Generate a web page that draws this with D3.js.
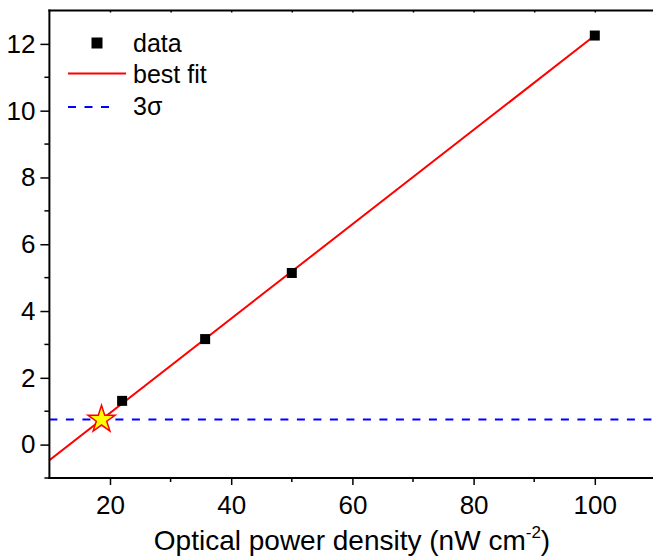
<!DOCTYPE html>
<html>
<head>
<meta charset="utf-8">
<script src="https://cdn.jsdelivr.net/npm/d3@7"></script>
<style>
  html, body { margin: 0; padding: 0; background: #fff; }
  svg { display: block; font-family: Arial, "Liberation Sans", sans-serif; }
</style>
</head>
<body>
<svg id="chart" width="653" height="558"></svg>
<script>
// Measured points: optical power density (nW cm^-2) vs response
const powerDensity = [22, 35.7, 50, 100];
const response = [1.31, 3.16, 5.14, 12.25];

// Linear fit, drawn between its two end points
const fitX = [10, 100];
const fitY = [-0.465, 12.25];

// 3-sigma noise level and the detection limit where the fit crosses it
const threeSigma = 0.75;
const detectionLimit = { x: 18.6, y: 0.75 };

// Axis ticks
const xMajorTicks = [20, 40, 60, 80, 100];
const xMinorTicks = [30, 50, 70, 90];
const yMajorTicks = [0, 2, 4, 6, 8, 10, 12];
const yMinorTicks = [-1, 1, 3, 5, 7, 9, 11];

const legendLabels = ["data", "best fit", "3σ"];

const svg = d3.select("#chart");

const x = d3.scaleLinear().domain([10, 110]).range([49.4, 655.4]);
const y = d3.scaleLinear().domain([-1, 13]).range([478, 10.5]);

const plotLeft = x(10), plotRight = 653, plotTop = y(13), plotBottom = y(-1);

// Clip region for the data marks
svg.append("clipPath").attr("id", "plot-clip")
  .append("rect")
  .attr("x", plotLeft).attr("y", plotTop)
  .attr("width", plotRight - plotLeft).attr("height", plotBottom - plotTop);

const plot = svg.append("g").attr("clip-path", "url(#plot-clip)");

// 3-sigma dashed level
plot.append("line")
  .attr("x1", plotLeft).attr("x2", plotRight)
  .attr("y1", y(threeSigma)).attr("y2", y(threeSigma))
  .attr("stroke", "#0000ff").attr("stroke-width", 2)
  .attr("stroke-dasharray", "8,8.5");

// Best-fit line
plot.append("path")
  .datum(d3.zip(fitX, fitY))
  .attr("d", d3.line().x(d => x(d[0])).y(d => y(d[1])))
  .attr("fill", "none").attr("stroke", "#ff0000").attr("stroke-width", 2);

// Data squares
const sq = 10;
plot.selectAll("rect.pt")
  .data(d3.zip(powerDensity, response))
  .join("rect")
  .attr("class", "pt")
  .attr("x", d => x(d[0]) - sq / 2)
  .attr("y", d => y(d[1]) - sq / 2)
  .attr("width", sq).attr("height", sq)
  .attr("fill", "#000");

// Detection-limit star
plot.append("path")
  .attr("d", d3.symbol().type(d3.symbolStar).size(230)())
  .attr("transform", `translate(${x(detectionLimit.x)},${y(detectionLimit.y)})`)
  .attr("fill", "#ffff00").attr("stroke", "#ff0000").attr("stroke-width", 1.5);

// Axes
const axisColor = "#000";
const tickFont = "26px";
const bottomAxis = svg.append("g").attr("transform", `translate(0,${plotBottom})`)
  .call(d3.axisBottom(x).tickValues(xMajorTicks).tickSize(7).tickPadding(11).tickFormat(d3.format("d")));
bottomAxis.append("g").selectAll("line")
  .data(xMinorTicks).join("line")
  .attr("x1", d => x(d)).attr("x2", d => x(d)).attr("y1", 0).attr("y2", 4)
  .attr("stroke", axisColor).attr("stroke-width", 1.5);

const leftAxis = svg.append("g").attr("transform", `translate(${plotLeft},0)`)
  .call(d3.axisLeft(y).tickValues(yMajorTicks).tickSize(9).tickPadding(5).tickFormat(d3.format("d")));
leftAxis.append("g").selectAll("line")
  .data(yMinorTicks).join("line")
  .attr("y1", d => y(d)).attr("y2", d => y(d)).attr("x1", 0).attr("x2", -5)
  .attr("stroke", axisColor).attr("stroke-width", 1.5);

const topAxis = svg.append("g").attr("transform", `translate(0,${plotTop})`)
  .call(d3.axisTop(x).tickValues(xMajorTicks.concat(xMinorTicks)).tickSize(-2).tickFormat(""));

[bottomAxis, leftAxis, topAxis].forEach(g => {
  g.select(".domain").remove();
  g.selectAll(".tick line").attr("stroke", axisColor).attr("stroke-width", 1.5);
  g.selectAll(".tick text").attr("fill", "#000").style("font-size", tickFont)
    .style("font-family", "Arial, 'Liberation Sans', sans-serif");
});

// Axis frame lines
svg.append("line").attr("x1", plotLeft - 1).attr("x2", plotRight).attr("y1", plotBottom).attr("y2", plotBottom)
  .attr("stroke", axisColor).attr("stroke-width", 2);
svg.append("line").attr("x1", plotLeft).attr("x2", plotLeft).attr("y1", plotTop - 1).attr("y2", plotBottom + 1)
  .attr("stroke", axisColor).attr("stroke-width", 2);
svg.append("line").attr("x1", plotLeft - 1).attr("x2", plotRight).attr("y1", plotTop).attr("y2", plotTop)
  .attr("stroke", axisColor).attr("stroke-width", 2);

// X axis title with superscript
const title = svg.append("text")
  .attr("x", 352).attr("y", 550)
  .attr("text-anchor", "middle")
  .style("font-size", "28px").attr("fill", "#000");
title.append("tspan").text("Optical power density (nW cm");
title.append("tspan").text("-2").attr("dy", -12).style("font-size", "17px");
title.append("tspan").text(")").attr("dy", 12);

// Legend
const legend = svg.append("g");
const rowY = [43, 73.5, 107];
legend.append("rect").attr("x", 91.5).attr("y", rowY[0] - 5.5).attr("width", 11).attr("height", 11).attr("fill", "#000");
legend.append("line").attr("x1", 68).attr("x2", 126).attr("y1", rowY[1]).attr("y2", rowY[1])
  .attr("stroke", "#ff0000").attr("stroke-width", 2);
legend.append("line").attr("x1", 68).attr("x2", 112).attr("y1", rowY[2]).attr("y2", rowY[2])
  .attr("stroke", "#0000ff").attr("stroke-width", 2).attr("stroke-dasharray", "8,8.5");
legend.selectAll("text.lg").data(legendLabels).join("text")
  .attr("class", "lg")
  .attr("x", 133).attr("y", (d, i) => [51.5, 82.5, 115][i])
  .style("font-size", "25px").attr("fill", "#000")
  .text(d => d);
</script>
</body>
</html>
